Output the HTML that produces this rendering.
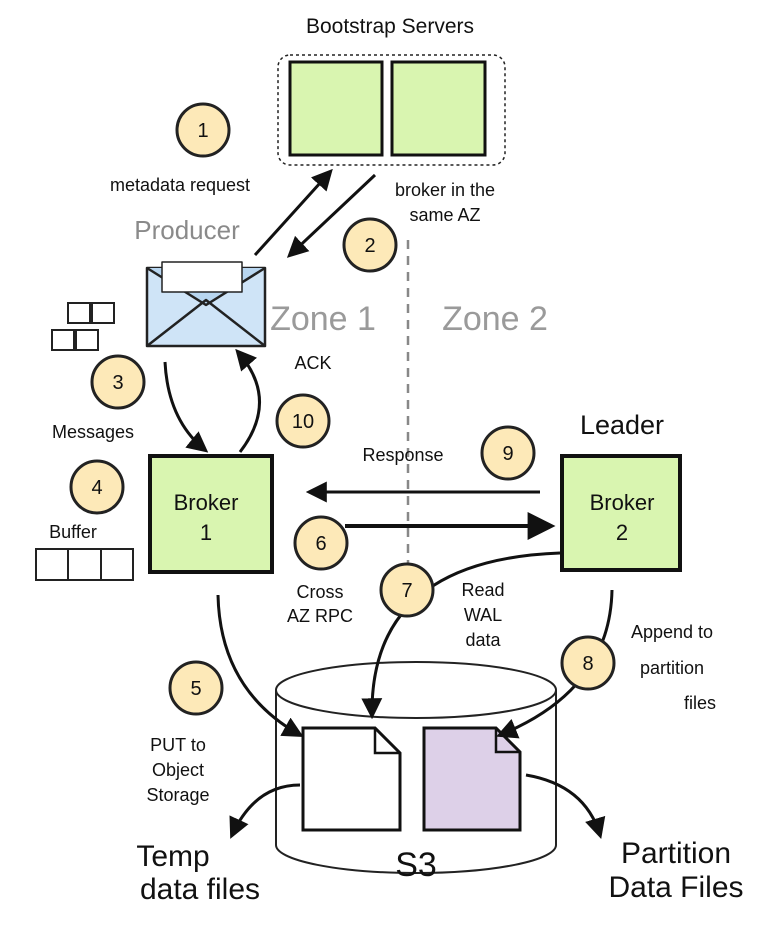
<!DOCTYPE html>
<html><head><meta charset="utf-8"><style>
html,body{margin:0;padding:0;background:#fff;}
svg{display:block;}
text{font-family:"Liberation Sans",sans-serif;fill:#111;}
</style></head><body>
<svg width="766" height="936" viewBox="0 0 766 936" xmlns="http://www.w3.org/2000/svg">
<defs>
<marker id="ah" viewBox="0 0 10 10" refX="8" refY="5" markerWidth="7" markerHeight="7" orient="auto-start-reverse">
<path d="M0,0 L10,5 L0,10 z" fill="#111"/></marker>
</defs>

<!-- Bootstrap -->
<text x="390" y="33" font-size="21" text-anchor="middle">Bootstrap Servers</text>
<rect x="278" y="55" width="227" height="110" rx="12" fill="none" stroke="#222" stroke-width="1.5" stroke-dasharray="3,3"/>
<rect x="290" y="62" width="92" height="93" fill="#d9f5b0" stroke="#111" stroke-width="3"/>
<rect x="392" y="62" width="93" height="93" fill="#d9f5b0" stroke="#111" stroke-width="3"/>

<!-- zone line -->
<line x1="408" y1="240" x2="408" y2="570" stroke="#888" stroke-width="2.5" stroke-dasharray="9,7"/>

<!-- texts -->
<text x="180" y="191" font-size="18" text-anchor="middle">metadata request</text>
<text x="445" y="196" font-size="18" text-anchor="middle">broker in the</text>
<text x="445" y="221" font-size="18" text-anchor="middle">same AZ</text>
<text x="187" y="239" font-size="26" text-anchor="middle" fill="#888" style="fill:#8a8a8a">Producer</text>
<text x="323" y="330" font-size="34" text-anchor="middle" style="fill:#9a9a9a">Zone 1</text>
<text x="495" y="330" font-size="34" text-anchor="middle" style="fill:#9a9a9a">Zone 2</text>
<text x="313" y="369" font-size="18" text-anchor="middle">ACK</text>
<text x="93" y="438" font-size="18" text-anchor="middle">Messages</text>
<text x="73" y="538" font-size="18" text-anchor="middle">Buffer</text>
<text x="622" y="434" font-size="27" text-anchor="middle">Leader</text>
<text x="403" y="461" font-size="18" text-anchor="middle">Response</text>
<text x="320" y="598" font-size="18" text-anchor="middle">Cross</text>
<text x="320" y="622" font-size="18" text-anchor="middle">AZ RPC</text>
<text x="483" y="596" font-size="18" text-anchor="middle">Read</text>
<text x="483" y="621" font-size="18" text-anchor="middle">WAL</text>
<text x="483" y="646" font-size="18" text-anchor="middle">data</text>
<text x="672" y="638" font-size="18" text-anchor="middle">Append to</text>
<text x="672" y="674" font-size="18" text-anchor="middle">partition</text>
<text x="700" y="709" font-size="18" text-anchor="middle">files</text>
<text x="178" y="751" font-size="18" text-anchor="middle">PUT to</text>
<text x="178" y="776" font-size="18" text-anchor="middle">Object</text>
<text x="178" y="801" font-size="18" text-anchor="middle">Storage</text>
<text x="173" y="866" font-size="30" text-anchor="middle">Temp</text>
<text x="200" y="899" font-size="30" text-anchor="middle">data files</text>
<text x="676" y="863" font-size="30" text-anchor="middle">Partition</text>
<text x="676" y="897" font-size="30" text-anchor="middle">Data Files</text>

<!-- envelope -->
<g stroke="#222" stroke-width="2.5" stroke-linejoin="round">
<rect x="147" y="268" width="118" height="78" fill="#cfe4f7"/>
<path d="M147,268 L206,305 L265,268" fill="#b8d6f0"/>
<rect x="162" y="262" width="80" height="30" fill="#fff" stroke-width="1.5"/>
<path d="M147,346 L206,300 L265,346" fill="none"/>
</g>

<!-- cubes -->
<g fill="#fff" stroke="#222" stroke-width="2">
<rect x="68" y="303" width="22" height="20"/><rect x="92" y="303" width="22" height="20"/>
<rect x="52" y="330" width="22" height="20"/><rect x="76" y="330" width="22" height="20"/>
</g>

<!-- buffer -->
<g fill="#fff" stroke="#222" stroke-width="2">
<rect x="36" y="549" width="32" height="31"/><rect x="68" y="549" width="33" height="31"/><rect x="101" y="549" width="32" height="31"/>
</g>

<!-- brokers -->
<rect x="150" y="456" width="122" height="116" fill="#d9f5b0" stroke="#111" stroke-width="4"/>
<text x="206" y="510" font-size="22" text-anchor="middle">Broker</text>
<text x="206" y="540" font-size="22" text-anchor="middle">1</text>
<rect x="562" y="456" width="118" height="114" fill="#d9f5b0" stroke="#111" stroke-width="4"/>
<text x="622" y="510" font-size="22" text-anchor="middle">Broker</text>
<text x="622" y="540" font-size="22" text-anchor="middle">2</text>

<!-- S3 cylinder -->
<g stroke="#222" stroke-width="2" fill="#fff">
<path d="M276,690 L276,845 A140,28 0 0 0 556,845 L556,690"/>
<ellipse cx="416" cy="690" rx="140" ry="28"/>
</g>
<text x="416" y="876" font-size="34" text-anchor="middle">S3</text>

<!-- docs -->
<path d="M303,728 L375,728 L400,753 L400,830 L303,830 Z" fill="#fff" stroke="#111" stroke-width="3"/>
<path d="M375,728 L375,753 L400,753" fill="none" stroke="#111" stroke-width="2.5"/>
<path d="M424,728 L496,728 L520,752 L520,830 L424,830 Z" fill="#ddd0e8" stroke="#111" stroke-width="3"/>
<path d="M496,728 L496,752 L520,752" fill="none" stroke="#111" stroke-width="2.5"/>

<!-- arrows -->
<g fill="none" stroke="#111" stroke-width="3" marker-end="url(#ah)">
<path d="M255,255 L330,172"/>
<path d="M375,175 L290,255"/>
<path d="M165,362 Q168,420 205,450"/>
<path d="M240,452 Q280,400 238,352"/>
<path d="M540,492 L310,492"/>
<path d="M345,526 L550,526" stroke-width="4"/>
<path d="M218,595 Q220,690 300,735"/>
<path d="M560,553 Q370,560 372,715"/>
<path d="M612,590 Q610,690 500,735"/>
<path d="M300,785 Q255,785 232,835"/>
<path d="M526,775 Q585,785 600,835"/>
</g>

<!-- numbered circles -->
<g font-size="20" text-anchor="middle">
<g fill="#fde9b8" stroke="#222" stroke-width="3">
<circle cx="203" cy="130" r="26"/><circle cx="370" cy="245" r="26"/>
<circle cx="118" cy="382" r="26"/><circle cx="97" cy="487" r="26"/>
<circle cx="196" cy="688" r="26"/><circle cx="321" cy="543" r="26"/>
<circle cx="407" cy="590" r="26"/><circle cx="588" cy="663" r="26"/>
<circle cx="508" cy="453" r="26"/><circle cx="303" cy="421" r="26"/>
</g>
<text x="203" y="137">1</text><text x="370" y="252">2</text>
<text x="118" y="389">3</text><text x="97" y="494">4</text>
<text x="196" y="695">5</text><text x="321" y="550">6</text>
<text x="407" y="597">7</text><text x="588" y="670">8</text>
<text x="508" y="460">9</text><text x="303" y="428">10</text>
</g>
</svg>
</body></html>
